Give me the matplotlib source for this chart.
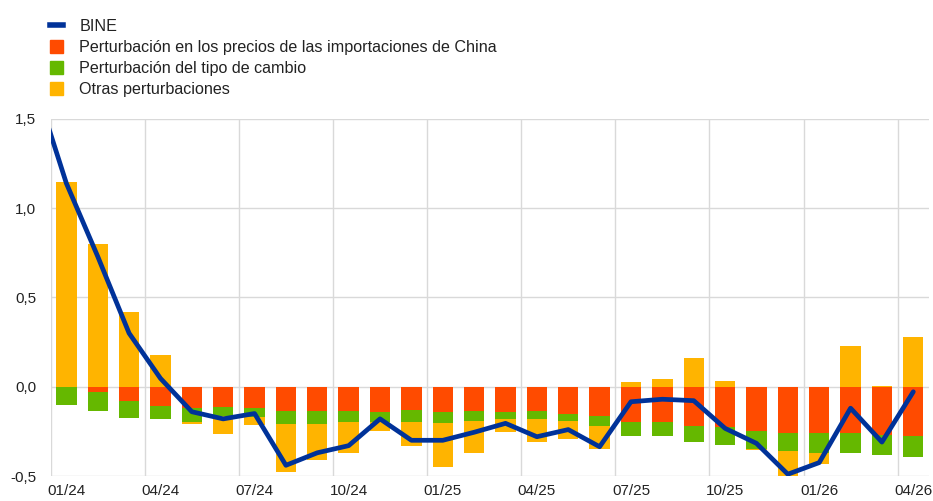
import matplotlib
matplotlib.use("Agg")
import matplotlib.pyplot as plt
import numpy as np
from matplotlib.lines import Line2D
from matplotlib.patches import Patch

plt.rcParams['font.family'] = ['Liberation Sans', 'DejaVu Sans']

# Months 01/24 .. 04/26
months = ["01/24", "02/24", "03/24", "04/24", "05/24", "06/24", "07/24", "08/24",
          "09/24", "10/24", "11/24", "12/24", "01/25", "02/25", "03/25", "04/25",
          "05/25", "06/25", "07/25", "08/25", "09/25", "10/25", "11/25", "12/25",
          "01/26", "02/26", "03/26", "04/26"]

china = [0.0, -0.03, -0.08, -0.11, -0.117, -0.112, -0.117, -0.134, -0.134, -0.134,
         -0.14, -0.132, -0.14, -0.134, -0.14, -0.134, -0.153, -0.164, -0.196, -0.196,
         -0.218, -0.228, -0.246, -0.26, -0.26, -0.26, -0.27, -0.276]
fx = [-0.10, -0.107, -0.094, -0.07, -0.083, -0.052, -0.051, -0.076, -0.076, -0.066,
      -0.056, -0.068, -0.065, -0.056, -0.04, -0.046, -0.037, -0.054, -0.078, -0.078,
      -0.092, -0.097, -0.104, -0.102, -0.11, -0.113, -0.11, -0.119]
other = [1.146, 0.80, 0.42, 0.176, -0.01, -0.103, -0.048, -0.266, -0.20, -0.17,
         -0.052, -0.13, -0.243, -0.183, -0.074, -0.13, -0.10, -0.129, 0.025, 0.045,
         0.162, 0.034, -0.004, -0.148, -0.06, 0.228, 0.005, 0.277]
# BINE line; first value is 12/23 (partly visible at the left edge)
bine_prev = 1.69
bine = [1.14, 0.73, 0.30, 0.047, -0.14, -0.18, -0.15, -0.44, -0.37, -0.33,
        -0.18, -0.30, -0.30, -0.255, -0.205, -0.28, -0.24, -0.336, -0.084, -0.07,
        -0.078, -0.233, -0.317, -0.49, -0.425, -0.12, -0.31, -0.028]

yticks = [-0.5, 0.0, 0.5, 1.0, 1.5]

C_BLUE = "#003299"
C_RED = "#ff4b00"
C_GREEN = "#65b800"
C_YELLOW = "#ffb400"
C_GRID = "#d9d9d9"

fig = plt.figure(figsize=(9.33, 5.01), dpi=100)
ax = fig.add_axes([0.0543, 0.0499, 0.9414, 0.7126])

x = np.arange(len(months))
pos_bottom = np.zeros(len(months))
neg_bottom = np.zeros(len(months))
for vals, col in [(china, C_RED), (fx, C_GREEN), (other, C_YELLOW)]:
    v = np.array(vals)
    bottoms = np.where(v >= 0, pos_bottom, neg_bottom)
    ax.bar(x, v, bottom=bottoms, width=0.65, color=col, zorder=2, linewidth=0)
    pos_bottom = pos_bottom + np.where(v >= 0, v, 0)
    neg_bottom = neg_bottom + np.where(v < 0, v, 0)

xl = np.concatenate([[-1], x])
yl = np.concatenate([[bine_prev], bine])
ax.plot(xl, yl, color=C_BLUE, lw=3.4, zorder=3, solid_capstyle='round',
        solid_joinstyle='round')

ax.set_xlim(-0.5, len(months) - 0.5)
ax.set_ylim(-0.5, 1.5)
ax.set_yticks(yticks)
ax.set_yticklabels([f"{t:.1f}".replace(".", ",") for t in yticks])
major = x[::3]
ax.set_xticks(major)
ax.set_xticklabels([months[i] for i in major])
ax.set_xticks(np.arange(-0.5, len(months) - 0.5, 3), minor=True)
ax.tick_params(axis='both', which='both', length=0, labelsize=11, colors="#000000")
ax.tick_params(axis='y', pad=10.5)
ax.tick_params(axis='x', pad=6)
ax.grid(axis='x', which='minor', color=C_GRID, lw=1.0, zorder=0)
ax.grid(axis='y', which='major', color=C_GRID, lw=1.0, zorder=0)
for s in ax.spines.values():
    s.set_visible(False)
for lbl in ax.get_xticklabels() + ax.get_yticklabels():
    lbl.set_color("#222222")

handles = [Line2D([0], [0], color=C_BLUE, lw=4),
           Patch(color=C_RED), Patch(color=C_GREEN), Patch(color=C_YELLOW)]
labels = ["BINE", "Perturbación en los precios de las importaciones de China",
          "Perturbación del tipo de cambio", "Otras perturbaciones"]
fig.legend(handles, labels, loc='upper left', bbox_to_anchor=(0.041, 0.984),
           frameon=False, fontsize=11.6, handlelength=0.85, handleheight=0.85,
           handletextpad=1.0, labelspacing=0.36, borderpad=0.2, labelcolor="#222222")

fig.savefig("out.png", dpi=100)
